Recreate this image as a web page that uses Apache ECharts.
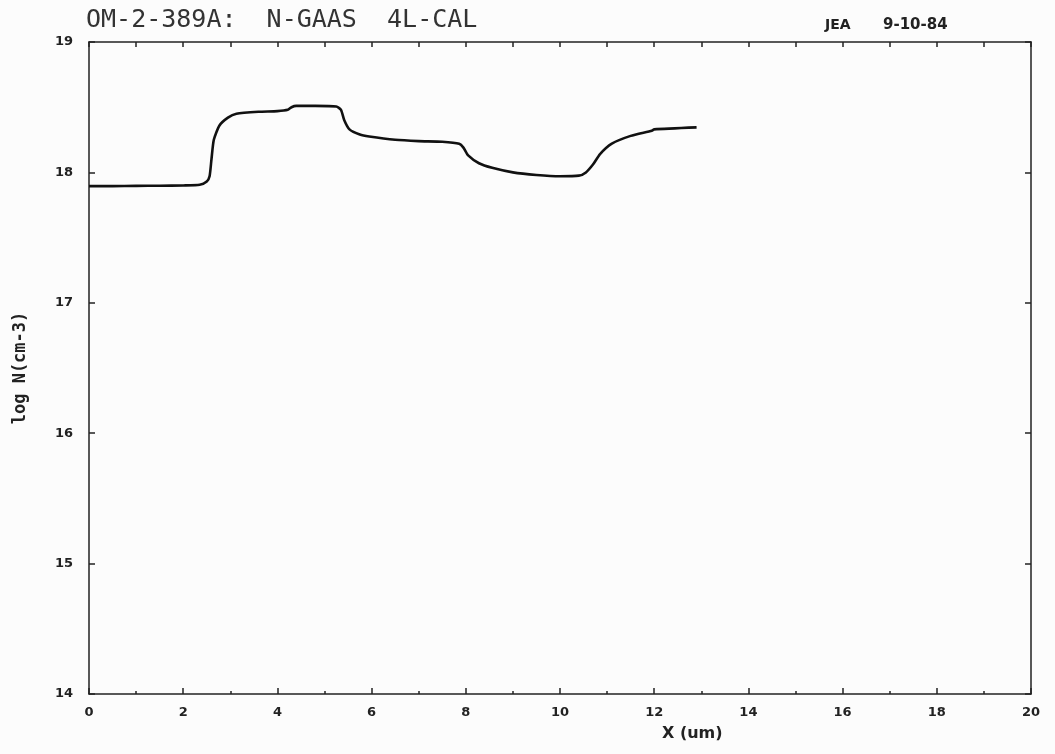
<!DOCTYPE html>
<html>
<head>
<meta charset="utf-8">
<script src="https://cdn.jsdelivr.net/npm/echarts@6/dist/echarts.min.js"></script>
<style>
html,body{margin:0;padding:0;background:#fcfcfc;}
#chart{width:1055px;height:754px;}
</style>
</head>
<body>
<div id="chart"></div>
<script>
// Depth (um)
var depthX = [0, 0.5, 1, 1.5, 2, 2.35, 2.5, 2.56, 2.6, 2.65, 2.77, 2.95, 3.13, 3.6, 4.0, 4.22, 4.3, 4.4, 4.8, 5.25, 5.35, 5.42, 5.53, 5.75, 5.95, 6.5, 7.0, 7.5, 7.86, 7.95, 8.05, 8.28, 8.56, 9.0, 9.5, 10.0, 10.4, 10.55, 10.7, 10.85, 11.1, 11.5, 11.95, 12.0, 12.9];
// log N (cm-3)
var logN = [17.895, 17.895, 17.897, 17.898, 17.9, 17.905, 17.93, 17.97, 18.1, 18.25, 18.36, 18.42, 18.45, 18.465, 18.47, 18.48, 18.5, 18.51, 18.51, 18.505, 18.48, 18.40, 18.33, 18.29, 18.275, 18.25, 18.24, 18.235, 18.22, 18.19, 18.13, 18.07, 18.035, 18.0, 17.98, 17.97, 17.975, 18.0, 18.06, 18.14, 18.22, 18.28, 18.32, 18.33, 18.345];
var titleText = 'OM-2-389A:  N-GAAS  4L-CAL';
var noteAuthor = 'JEA';
var noteDate = '9-10-84';
var xName = 'X (um)';
var yName = 'log N(cm-3)';

var pts = depthX.map(function (x, i) { return [x, logN[i]]; });
var lblStyle = {color: '#222', fontFamily: 'DejaVu Sans', fontWeight: 'bold', fontSize: 13};
var lineStyle = {color: '#222', width: 1.5};

var chart = echarts.init(document.getElementById('chart'));
chart.setOption({
  backgroundColor: '#fcfcfc',
  animation: false,
  grid: {left: 89, right: 24, top: 42, bottom: 60, show: false},
  xAxis: [{
    type: 'value', min: 0, max: 20, interval: 2, position: 'bottom',
    axisLine: {show: true, lineStyle: lineStyle, onZero: false},
    axisTick: {show: true, inside: true, length: 6, lineStyle: lineStyle},
    minorTick: {show: true, splitNumber: 2, length: 3, lineStyle: lineStyle},
    axisLabel: Object.assign({margin: 12}, lblStyle),
    splitLine: {show: false}
  }, {
    type: 'value', min: 0, max: 20, interval: 1, position: 'top',
    axisLine: {show: true, lineStyle: lineStyle, onZero: false},
    axisTick: {show: true, inside: true, length: 5, lineStyle: lineStyle},
    axisLabel: {show: false},
    splitLine: {show: false}
  }],
  yAxis: [{
    type: 'value', min: 14, max: 19, interval: 1, position: 'left',
    axisLine: {show: true, lineStyle: lineStyle, onZero: false},
    axisTick: {show: true, inside: true, length: 6, lineStyle: lineStyle},
    axisLabel: Object.assign({margin: 16}, lblStyle),
    splitLine: {show: false}
  }, {
    type: 'value', min: 14, max: 19, interval: 1, position: 'right',
    axisLine: {show: true, lineStyle: lineStyle, onZero: false},
    axisTick: {show: true, inside: true, length: 6, lineStyle: lineStyle},
    axisLabel: {show: false},
    splitLine: {show: false}
  }],
  graphic: [
    {type: 'text', left: 86, top: 8, style: {text: titleText, fill: '#333', font: '25px "DejaVu Sans Mono"'}},
    {type: 'text', left: 825, top: 18, style: {text: noteAuthor, fill: '#222', font: 'bold 14px "DejaVu Sans"'}},
    {type: 'text', left: 883, top: 18, style: {text: noteDate, fill: '#222', font: 'bold 15px "DejaVu Sans"'}},
    {type: 'text', left: 662, top: 726, style: {text: xName, fill: '#222', font: 'bold 16px "DejaVu Sans"'}},
    {type: 'text', x: 21, y: 368, rotation: Math.PI / 2, style: {text: yName, fill: '#222', font: 'bold 17px "DejaVu Sans Mono"', align: 'center', verticalAlign: 'middle'}}
  ],
  series: [{
    type: 'line', xAxisIndex: 0, yAxisIndex: 0,
    data: pts, showSymbol: false, smooth: 0.2,
    lineStyle: {color: '#111', width: 2.6}
  }]
});
</script>
</body>
</html>
